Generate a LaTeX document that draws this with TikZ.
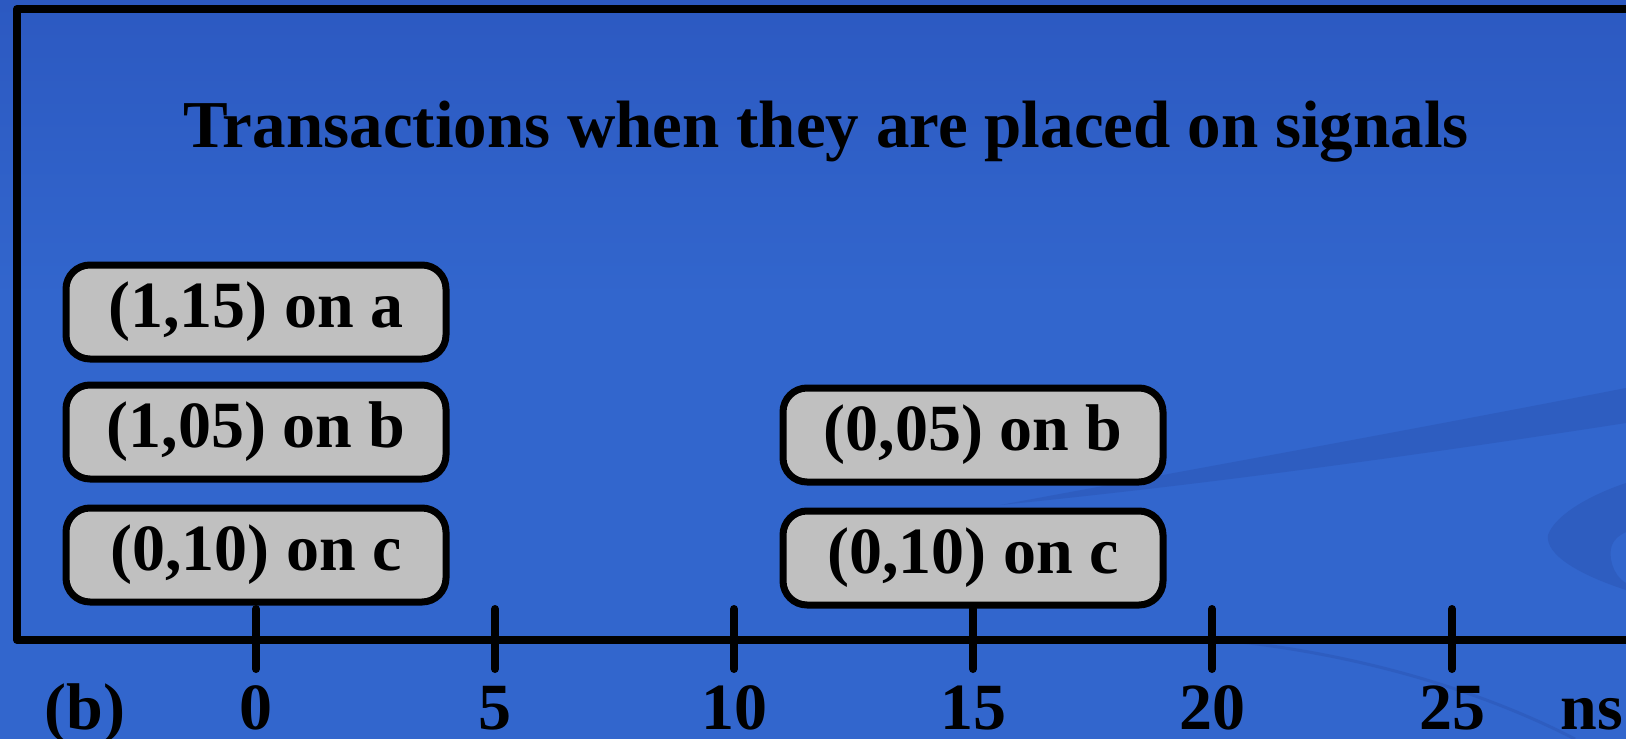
\documentclass[tikz,border=0pt]{standalone}
\usepackage{fontspec}
\setmainfont{Liberation Serif}
\definecolor{bgtop}{RGB}{44,89,193}
\definecolor{bgbot}{RGB}{50,102,205}
\definecolor{swoosh}{RGB}{46,93,192}
\definecolor{boxgray}{RGB}{192,192,192}
\begin{document}
\begin{tikzpicture}[x=1pt,y=-1pt,
  frame/.style={line width=8pt,line join=round,line cap=round},
  tick/.style={line width=8pt,line cap=round},
  sig/.style={draw=black,line width=7pt,fill=boxgray,rounded corners=24pt,
    minimum width=380pt,minimum height=94pt,inner sep=0pt,
    font=\fontsize{66}{70}\selectfont\bfseries},
  lab/.style={anchor=base,inner sep=0pt,font=\fontsize{66}{70}\selectfont\bfseries},
  ttl/.style={anchor=base,inner sep=0pt,font=\fontsize{67}{74}\selectfont\bfseries}]
\useasboundingbox (0,0) rectangle (1626,739);
% background
\shade[top color=bgtop,bottom color=bgbot] (0,0) rectangle (1626,300);
\fill[bgbot] (0,299) rectangle (1626,739);
% swooshes
\fill[swoosh] (1000,505) .. controls (1200,468) and (1400,432) .. (1626,388)
  -- (1626,423) .. controls (1400,458) and (1200,485) .. (1000,505) -- cycle;
\fill[swoosh] (1626,483) .. controls (1590,495) and (1555,515) .. (1548,535)
  .. controls (1545,555) and (1580,575) .. (1626,590)
  -- (1626,583) .. controls (1612,575) and (1608,555) .. (1612,545)
  .. controls (1615,538) and (1620,535) .. (1626,532) -- cycle;
\draw[swoosh,line width=3pt] (1200,638) .. controls (1350,650) and (1480,690) .. (1575,739);
% frame and axis
\coordinate (tr) at (1626,9);
\coordinate (tl) at (17,9);
\coordinate (bl) at (17,640);
\coordinate (br) at (1626,640);
\draw[frame] (tr) -- (tl) -- (bl) -- (br);
% ticks
\foreach \x/\n in {256/t0,495/t5,734/t10,973/t15,1212/t20,1452/t25}{
  \coordinate (\n a) at (\x,609);
  \coordinate (\n b) at (\x,669);
  \draw[tick] (\n a) -- (\n b);
}
% title
\node[ttl] (title) at (826,147) {Transactions when they are placed on signals};
% boxes
\node[sig] (la) at (256,312) {(1,15) on a};
\node[sig] (lb) at (256,432) {(1,05) on b};
\node[sig] (lc) at (256,555) {(0,10) on c};
\node[sig] (rb) at (973,435) {(0,05) on b};
\node[sig] (rc) at (973,558) {(0,10) on c};
% labels
\node[lab] (b) at (85,729) {(b)};
\node[lab] (l0) at (256,729) {0};
\node[lab] (l5) at (495,729) {5};
\node[lab] (l10) at (734,729) {10};
\node[lab] (l15) at (973,729) {15};
\node[lab] (l20) at (1212,729) {20};
\node[lab] (l25) at (1452,729) {25};
\node[lab] (ns) at (1592,729) {ns};
\end{tikzpicture}
\end{document}
